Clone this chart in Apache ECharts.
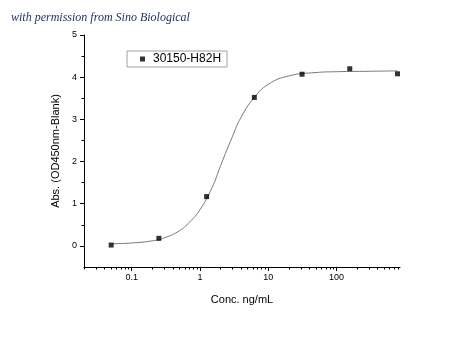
<!DOCTYPE html>
<html>
<head>
<meta charset="utf-8">
<script src="https://cdn.jsdelivr.net/npm/echarts@6/dist/echarts.min.js"></script>
<style>html,body{margin:0;padding:0;background:#fff;}#c{width:450px;height:338px;}</style>
</head>
<body>
<div id="c"></div>
<script>
// Measured points
const conc = [0.05, 0.25, 1.25, 6.25, 31.25, 156.25, 781.25];
const absVals = [0.02, 0.18, 1.17, 3.52, 4.07, 4.20, 4.08];
// Fitted curve
const fitConc = [0.05, 0.1, 0.2, 0.3, 0.5, 0.7, 1, 1.5, 2, 3, 4, 6.25, 10, 20, 50, 100, 300, 781.25];
const fitAbs  = [0.05, 0.07, 0.12, 0.19, 0.36, 0.56, 0.86, 1.38, 1.9, 2.6, 3.05, 3.52, 3.83, 4.03, 4.11, 4.13, 4.14, 4.15];
// Ticks
const xLabels = [0.1, 1, 10, 100];
const xMinor = [0.02,0.03,0.04,0.05,0.06,0.07,0.08,0.09,0.2,0.3,0.4,0.5,0.6,0.7,0.8,0.9,2,3,4,5,6,7,8,9,20,30,40,50,60,70,80,90,200,300,400,500,600,700,800];
const yLabels = [0, 1, 2, 3, 4, 5];
const yMinor = [0.5, 1.5, 2.5, 3.5, 4.5];
const seriesName = '30150-H82H';

const chart = echarts.init(document.getElementById('c'));
const axisFont = 'Liberation Sans, Arial, sans-serif';
chart.setOption({
  animation: false,
  backgroundColor: '#fff',
  title: {
    text: 'with permission from Sino Biological',
    left: 6, top: 7,
    textStyle: {fontFamily: 'Liberation Serif', fontStyle: 'italic', fontWeight: 'normal', fontSize: 12, color: '#1c2e5e'}
  },
  legend: {
    data: [seriesName],
    left: 127, top: 51,
    padding: [2, 6, 2, 13],
    icon: 'rect', itemWidth: 5, itemHeight: 5,
    borderColor: '#a0a0a0', borderWidth: 1,
    textStyle: {fontFamily: axisFont, fontSize: 12, color: '#000', padding: [0, 0, 0, 3]}
  },
  grid: {left: 84, right: 50, top: 35, bottom: 71, containLabel: false},
  xAxis: [
    {
      type: 'log', min: 0.02, max: 850, position: 'bottom',
      name: 'Conc. ng/mL', nameLocation: 'middle', nameGap: 27,
      nameTextStyle: {fontFamily: axisFont, fontSize: 11, color: '#000'},
      axisLine: {show: true, onZero: false, lineStyle: {color: '#000', width: 1}},
      axisTick: {show: true, customValues: xLabels, length: 4, lineStyle: {color: '#000'}},
      axisLabel: {customValues: xLabels, fontFamily: axisFont, fontSize: 9, color: '#000', margin: 6},
      splitLine: {show: false}
    },
    {
      type: 'log', min: 0.02, max: 850, position: 'bottom',
      axisLine: {show: false, onZero: false},
      axisTick: {show: true, customValues: xMinor, length: 2.5, lineStyle: {color: '#000'}},
      axisLabel: {show: false},
      splitLine: {show: false}
    }
  ],
  yAxis: [
    {
      type: 'value', min: -0.5, max: 5, interval: 0.5, position: 'left',
      name: 'Abs. (OD450nm-Blank)', nameLocation: 'middle', nameGap: 13,
      nameTextStyle: {fontFamily: axisFont, fontSize: 11, color: '#000'},
      axisLine: {show: true, onZero: false, lineStyle: {color: '#000', width: 1}},
      axisTick: {show: true, customValues: yLabels, length: 4, lineStyle: {color: '#000'}},
      axisLabel: {customValues: yLabels, fontFamily: axisFont, fontSize: 9, color: '#000', margin: 7},
      splitLine: {show: false}
    },
    {
      type: 'value', min: -0.5, max: 5, interval: 0.5, position: 'left',
      axisLine: {show: false, onZero: false},
      axisTick: {show: true, customValues: yMinor, length: 2.5, lineStyle: {color: '#000'}},
      axisLabel: {show: false},
      splitLine: {show: false}
    }
  ],
  series: [
    {
      name: 'fit', type: 'line', xAxisIndex: 0, yAxisIndex: 0,
      data: fitConc.map((c, i) => [c, fitAbs[i]]),
      smooth: true, showSymbol: false, symbol: 'none',
      lineStyle: {color: '#7a7a7a', width: 1}, z: 2
    },
    {
      name: seriesName, type: 'scatter', xAxisIndex: 0, yAxisIndex: 0,
      data: conc.map((c, i) => [c, absVals[i]]),
      symbol: 'rect', symbolSize: 5,
      itemStyle: {color: '#000'}, z: 3
    }
  ]
});
</script>
</body>
</html>
